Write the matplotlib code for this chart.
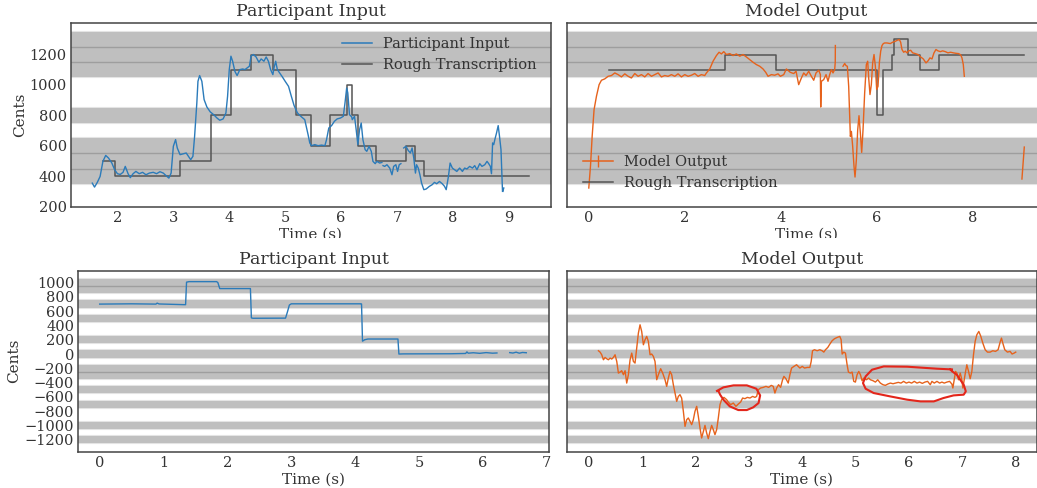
import numpy as np
import matplotlib
matplotlib.use('Agg')
import matplotlib.pyplot as plt
from matplotlib.lines import Line2D
from matplotlib.patches import Rectangle

nan = np.nan

# scale notes (cents) shown as grey bands
top_notes = [400, 500, 600, 800, 1100, 1200, 1300]
bottom_notes = [1000, 900, 700, 500, 200, 0, -200, -300, -500, -700, -1000, -1200]

# --- top left: participant input ---
tl_time = [1.55, 1.59, 1.64, 1.69, 1.74, 1.79, 1.84, 1.90, 1.95, 2.00, 2.05, 2.10, 2.14, 2.19,
           2.23, 2.28, 2.33, 2.39, 2.45, 2.51, 2.57, 2.64, 2.70, 2.76, 2.82, 2.87, 2.92, 2.96,
           2.98, 3.00, 3.04, 3.07, 3.12, 3.18, 3.23, 3.27, 3.31, 3.35, 3.38, 3.42, 3.44, 3.47,
           3.51, 3.55, 3.60, 3.66, 3.72, 3.78, 3.83, 3.89, 3.94, 3.97, 4.00, 4.03, 4.06, 4.10,
           4.14, 4.19, 4.24, 4.28, 4.32, 4.36, 4.39, 4.43, 4.48, 4.53, 4.57, 4.62, 4.66, 4.70,
           4.74, 4.78, 4.80, 4.83, 4.86, 4.91, 4.95, 5.00, 5.06, 5.11, 5.16, 5.22, 5.28, 5.35,
           5.41, 5.44, 5.47, 5.53, 5.59, 5.65, 5.71, 5.74, 5.78, 5.83, 5.88, 5.93, 5.99, 6.04,
           6.07, 6.10, 6.12, 6.15, 6.19, 6.20, 6.24, 6.27, 6.30, 6.33, 6.36, 6.39, 6.43, 6.46,
           6.50, 6.54, 6.57, 6.61, 6.64, 6.69, 6.73, nan, 6.75, 6.78, 6.82, 6.87, 6.91, 6.94,
           6.98, 7.01, 7.04, 7.07, nan, 7.12, 7.16, 7.20, 7.24, 7.27, 7.30, 7.33, 7.35, 7.38,
           7.41, 7.44, 7.48, 7.52, 7.58, 7.63, 7.67, 7.71, 7.76, 7.81, 7.85, 7.88, 7.92, 7.95,
           7.99, 8.03, 8.07, 8.12, 8.17, 8.21, 8.25, 8.30, 8.35, 8.39, 8.43, 8.48, 8.52, 8.57,
           8.61, 8.64, 8.67, 8.69, 8.71, 8.73, 8.75, 8.78, 8.81, 8.83, 8.86, 8.875, 8.887, nan,
           8.893, 8.91]
tl_cents = [355, 329, 360, 399, 498, 537, 520, 487, 443, 417, 412, 426, 465, 417,
            391, 417, 432, 417, 426, 410, 421, 426, 417, 430, 421, 404, 388, 421,
            509, 597, 641, 586, 542, 548, 553, 531, 509, 531, 662, 882, 1024, 1062,
            1024, 904, 855, 823, 805, 783, 768, 777, 816, 926, 1101, 1189, 1156, 1090,
            1062, 1101, 1105, 1101, 1112, 1123, 1189, 1200, 1184, 1149, 1171, 1156, 1184, 1156,
            1101, 1068, 1112, 1156, 1101, 1075, 1053, 1024, 991, 926, 864, 816, 794, 772,
            673, 619, 601, 608, 601, 605, 601, 641, 717, 733, 761, 777, 783, 794,
            882, 980, 948, 805, 790, 772, 794, 706, 608, 706, 750, 641, 575, 564,
            597, 564, 498, 483, 498, 487, 491, nan, 470, 465, 476, 454, 410, 465,
            476, 432, 476, 483, nan, 586, 597, 570, 553, 586, 520, 421, 476, 454,
            410, 355, 312, 316, 334, 345, 360, 351, 366, 351, 334, 312, 399, 487,
            454, 443, 432, 454, 432, 454, 448, 465, 454, 470, 443, 483, 465, 476,
            498, 483, 465, 417, 619, 608, 641, 684, 733, 673, 575, 421, 301, nan,
            301, 323]

tl_onsets = [1.74, 1.96, 3.11, 3.67, 4.03, 4.38, 4.79, 5.20, 5.47, 5.80, 6.11, 6.19,
             6.30, 6.62, 7.16, 7.33, 7.49]
tl_notes = [500, 400, 500, 800, 1100, 1200, 1100, 800, 600, 800, 1000, 800,
            600, 500, 600, 500, 400]
tl_end = 9.36

# --- top right: model output ---
tr_time = [0.0, 0.035, 0.07, 0.11, 0.16, 0.215, 0.264, 0.333, 0.403,
           0.472, 0.542, 0.611, 0.681, 0.75, 0.82, 0.889, 0.958, 1.028, 1.097, 1.167,
           1.236, 1.306, 1.375, 1.445, 1.514, 1.583, 1.653, 1.722, 1.792, 1.861, 1.931,
           2.0, 2.07, 2.139, 2.208, 2.278, 2.347, 2.417,
           2.452, 2.521, 2.59, 2.66, 2.715, 2.764, 2.813, 2.868, 2.938, 3.007, 3.076,
           3.146, 3.215, 3.285, 3.354, 3.424, 3.493, 3.563, 3.632, 3.688, 3.736, 3.806,
           3.875, 3.944, 3.993, 4.063, 4.118, 4.174, 4.20, 4.271, 4.32, 4.375, 4.431,
           4.48, 4.528, 4.584, 4.639, 4.688, 4.736, 4.792, 4.827, 4.834, 4.848, 4.896,
           4.945, 4.986, 5.021, 5.056, 5.09, 5.125, 5.137, 5.139, nan,
           5.299, 5.334, 5.361, 5.389, 5.417, 5.438, 5.452, 5.473, 5.50, 5.528, 5.549,
           5.577, 5.605, 5.632, 5.66, 5.688, 5.716, 5.75, 5.785, 5.813, 5.834, 5.861,
           5.889, 5.917, 5.945, 5.973, 6.0, 6.028, 6.056, 6.084, 6.111, 6.139, 6.167,
           6.215, 6.285, 6.334, 6.389, 6.431, 6.473, 6.50, 6.528, 6.563, 6.597, 6.632,
           6.667, 6.709, 6.75, 6.806, 6.861, 6.917, 6.972, 7.028, 7.07, 7.111, 7.153,
           7.195, 7.236, 7.278, 7.327, 7.375, 7.431, 7.486, 7.542, 7.598, 7.653, 7.709,
           7.75, 7.778, 7.806, 7.827, nan, 9.028, 9.077]
tr_cents = [323, 465, 662, 838, 926, 1002, 1031, 1040, 1057,
            1062, 1079, 1068, 1053, 1073, 1057, 1046, 1075, 1057, 1068, 1053,
            1075, 1057, 1068, 1079, 1053, 1062, 1057, 1068, 1057, 1073, 1053,
            1068, 1057, 1064, 1075, 1057, 1068, 1062,
            1079, 1105, 1156, 1193, 1215, 1204, 1219, 1200, 1206, 1193, 1204,
            1189, 1200, 1184, 1167, 1149, 1134, 1123, 1105, 1083, 1057, 1068,
            1064, 1073, 1057, 1068, 1105, 1090, 1083, 1075, 1090, 1002, 1046,
            1079, 1062, 1090, 1057, 1031, 1079, 1097, 1068, 855, 1024, 1035,
            1068, 1024, 1068, 1101, 1079, 1101, 1150, 1259, nan,
            1123, 1141, 1127, 1123, 991, 794, 662, 695, 597, 465, 395,
            509, 706, 798, 684, 557, 706, 948, 1134, 1156, 1046, 937,
            1002, 1145, 1200, 1123, 970, 991, 1145, 1222, 1259, 1272, 1276,
            1276, 1272, 1281, 1287, 1294, 1298, 1281, 1233, 1215, 1222, 1211,
            1224, 1228, 1211, 1206, 1200, 1184, 1171, 1145, 1158, 1178, 1171,
            1211, 1233, 1224, 1219, 1224, 1219, 1211, 1215, 1211, 1208, 1206,
            1198, 1178, 1134, 1057, nan, 382, 592]

tr_onsets = [0.42, 2.83, 3.91, 6.00, 6.14, 6.32, 6.36, 6.65, 6.91, 7.29]
tr_notes = [1100, 1200, 1100, 800, 1100, 1200, 1300, 1200, 1100, 1200]
tr_end = 9.08

# --- bottom left: participant input ---
bl_time = [0.0, 0.5, 0.88, 0.90, 0.93, 1.33, 1.345, 1.36, 1.40, 1.83, 1.85, 1.88,
           2.36, 2.375, 2.40, 2.91, 2.94, 2.97, 3.00, 4.09, 4.10, 4.115, 4.15, 4.20,
           4.67, 4.685, 4.75, 5.50, 5.73, 5.75, 5.77, 5.85, 5.95, 6.05, 6.15, 6.22,
           nan, 6.42, 6.47, 6.52, 6.57, 6.62, 6.68]
bl_cents = [698, 702, 698, 712, 700, 690, 690, 1005, 1012, 1012, 1000, 915,
            915, 505, 500, 502, 590, 685, 702, 702, 700, 180, 200, 210,
            210, 0, 2, 4, 8, 30, 12, 18, 10, 20, 12, 15,
            nan, 20, 14, 26, 12, 22, 18]

# --- bottom right: model output ---
br_time = [0.175, 0.206, 0.237, 0.269, 0.30, 0.331, 0.362, 0.394, 0.425, 0.456, 0.487,
           0.519, 0.55, 0.581, 0.612, 0.644, 0.675, 0.706, 0.737, 0.769, 0.80, 0.831,
           0.862, 0.894, 0.925, 0.956, 0.987, 1.019, 1.05, 1.081, 1.112, 1.144, 1.175,
           1.206, 1.237, 1.269, 1.30, 1.343, 1.381, 1.425, 1.456, 1.487, 1.519, 1.55,
           1.581, 1.612, 1.644, 1.675, 1.706, 1.737, 1.769, 1.80, 1.831, 1.862, 1.894,
           1.925, 1.956, 1.987, 2.019, 2.05, 2.081, 2.112, 2.144, 2.175, 2.206, 2.237,
           2.269, 2.30, 2.331, 2.362, 2.394, 2.425, 2.456, 2.487, 2.531, 2.581, 2.612,
           2.656, 2.706, 2.756, 2.80, 2.844, 2.881, 2.925, 2.969, 3.019, 3.069, 3.112,
           3.144, 3.175, 3.219, 3.269, 3.319, 3.369, 3.419, 3.456, 3.487, 3.519, 3.556,
           3.594, 3.631, 3.656, 3.694, 3.737, 3.769, 3.80, 3.844, 3.894, 3.956, 4.0,
           4.043, 4.093, 4.143, 4.168, 4.193, 4.23, 4.28, 4.33, 4.374, 4.405, 4.436,
           4.48, 4.518, 4.561, 4.605, 4.655, 4.705, 4.73, 4.749, 4.78, 4.811, 4.842,
           4.867, 4.905, 4.936, 4.967, 4.998, 5.029, 5.061, 5.092, 5.123, 5.154, 5.204,
           5.248, 5.279, 5.329, 5.373, 5.417, 5.466, 5.516, 5.56, 5.604, 5.654, 5.704,
           5.753, 5.803, 5.853, 5.903, 5.953, 6.003, 6.053, 6.103, 6.153, 6.203, 6.253,
           6.303, 6.353, 6.403, 6.434, 6.478, 6.528, 6.578, 6.621, 6.665, 6.715, 6.765,
           6.809, 6.827, 6.852, 6.877, 6.902, 6.933, 6.965, 6.996, 7.014, 7.039, 7.064,
           7.089, 7.121, 7.152, 7.183, 7.214, 7.245, 7.277, 7.314, 7.352, 7.389, 7.433,
           7.476, 7.526, 7.576, 7.626, 7.676, 7.714, 7.739, 7.764, 7.801, 7.851, 7.901,
           7.938, 7.976, 8.007]
br_cents = [46, 27, -10, -80, -47, -66, -80, -56, -70, -47, -10,
            -103, -266, -252, -233, -289, -233, -406, -289, -80, 13, -103,
            -126, 83, 293, 409, 316, 130, 200, 246, 176, -10, 0,
            -33, -103, -359, -289, -205, -266, -359, -452, -336, -243, -289,
            -429, -545, -662, -592, -568, -615, -801, -1011, -918, -894, -941,
            -987, -918, -801, -731, -871, -1034, -1174, -1081, -997, -1104, -1183,
            -1081, -997, -1057, -1127, -1057, -894, -708, -638, -606, -638, -671,
            -708, -685, -731, -699, -671, -615, -624, -606, -615, -592, -606,
            -592, -499, -475, -466, -452, -466, -438, -452, -545, -475, -429,
            -466, -359, -312, -345, -406, -289, -196, -173, -150, -196, -173,
            -196, -187, -187, -103, 46, 60, 46, 60, 46, 27, 60,
            93, 139, 186, 214, 232, 246, 200, 0, 27, 13, -150,
            -252, -266, -252, -382, -392, -289, -243, -289, -373, -336, -359,
            -336, -359, -373, -392, -359, -406, -429, -438, -420, -406, -415,
            -406, -396, -406, -382, -406, -392, -406, -382, -406, -392, -410,
            -392, -382, -429, -382, -406, -382, -406, -392, -406, -392, -382,
            -420, -475, -359, -243, -266, -359, -266, -359, -475, -359, -252,
            -150, -243, -345, -243, -10, 176, 270, 316, 246, 153, 60,
            27, 27, 46, 37, 60, 167, 223, 153, 60, 27, 37,
            0, 13, 27]

# hand-drawn red loops on the bottom right panel
loop1_time = [2.40, 2.52, 2.71, 2.96, 3.14, 3.21, 3.18, 3.08, 2.96, 2.80, 2.64, 2.52, 2.46, 2.43]
loop1_cents = [-515, -466, -438, -438, -485, -578, -685, -745, -783, -783, -731, -638, -569, -522]
loop2_time = [6.78, 6.81, 6.90, 7.03, 7.07, 7.03, 6.84, 6.65, 6.47, 6.22, 5.97, 5.65,
              5.34, 5.19, 5.14, 5.19, 5.31, 5.53, 5.97, 6.53, 6.81]
loop2_cents = [-215, -240, -289, -429, -522, -568, -578, -615, -662, -662, -638, -592,
               -545, -485, -406, -312, -219, -173, -177, -205, -215]

BAND = '#bfbfbf'
BLUE = '#2b7bba'
ORANGE = '#e6621c'
GREY = '#555555'
TXT = '#333333'

plt.rcParams['font.family'] = 'DejaVu Serif'
plt.rcParams['text.color'] = TXT
plt.rcParams['axes.labelcolor'] = TXT
plt.rcParams['xtick.color'] = TXT
plt.rcParams['ytick.color'] = TXT
plt.rcParams['xtick.labelsize'] = 10.5
plt.rcParams['ytick.labelsize'] = 10.5
plt.rcParams['axes.edgecolor'] = '#444444'


def draw_bands(ax, notes):
    ns = sorted(notes)
    for n in ns:
        # faint light rim just outside each band
        ax.axhline(n - 50, color='#e4e4e4', lw=1.5, zorder=0)
        ax.axhline(n + 50, color='#e4e4e4', lw=1.5, zorder=0)
    for n in ns:
        ax.axhspan(n - 50, n + 50, facecolor=BAND, lw=0, zorder=0.2)
    for a, b in zip(ns[:-1], ns[1:]):
        if b - a == 100:
            ax.axhline((a + b) / 2, color='#9e9e9e', lw=1.0, zorder=0.5)


def style(ax):
    ax.tick_params(length=0, pad=3)
    for s in ax.spines.values():
        s.set_linewidth(1.1)


def steps(ax, onsets, notes, end):
    x = list(onsets) + [end]
    y = list(notes) + [notes[-1]]
    ax.step(x, y, where='post', color=GREY, lw=1.1, zorder=2)


fig = plt.figure(figsize=(10.37, 4.88), dpi=100)
ax1 = fig.add_axes([0.0685, 0.5764, 0.4626, 0.3758])
ax2 = fig.add_axes([0.5465, 0.5764, 0.4622, 0.3758])
ax3 = fig.add_axes([0.0755, 0.0744, 0.4539, 0.3709])
ax4 = fig.add_axes([0.5465, 0.0744, 0.4532, 0.3709])

# top left
draw_bands(ax1, top_notes)
ax1.plot(tl_time, tl_cents, color=BLUE, lw=1.0, zorder=3)
steps(ax1, tl_onsets, tl_notes, tl_end)
ax1.set_xlim(1.17, 9.75)
ax1.set_ylim(200, 1405)
ax1.set_yticks([200, 400, 600, 800, 1000, 1200])
ax1.set_xticks(range(2, 10))
ax1.set_title('Participant Input', fontsize=12.5, pad=5)
ax1.set_ylabel('Cents', fontsize=11, labelpad=1.5)
ax1.set_xlabel('Time (s)', fontsize=11, labelpad=2)
ax1.legend(handles=[Line2D([], [], color=BLUE, lw=1.1), Line2D([], [], color=GREY, lw=1.1)],
           labels=['Participant Input', 'Rough Transcription'], loc='upper right',
           frameon=False, fontsize=10.5, borderaxespad=0.55)
style(ax1)

# top right
draw_bands(ax2, top_notes)
ax2.plot(tr_time, tr_cents, color=ORANGE, lw=1.0, zorder=3)
steps(ax2, tr_onsets, tr_notes, tr_end)
ax2.set_xlim(-0.46, 9.53)
ax2.set_ylim(200, 1405)
ax2.set_yticks([200, 400, 600, 800, 1000, 1200])
ax2.set_yticklabels([])
ax2.set_xticks([0, 2, 4, 6, 8])
ax2.set_title('Model Output', fontsize=12.5, pad=5)
ax2.set_xlabel('Time (s)', fontsize=11, labelpad=2)
ax2.legend(handles=[Line2D([], [], color=ORANGE, lw=1.1, marker='|', markersize=9),
                    Line2D([], [], color=GREY, lw=1.1)],
           labels=['Model Output', 'Rough Transcription'], loc='lower left',
           frameon=False, fontsize=10.5, borderaxespad=0.75)
style(ax2)

# bottom left
draw_bands(ax3, bottom_notes)
ax3.plot(bl_time, bl_cents, color=BLUE, lw=1.0, zorder=3)
ax3.set_xlim(-0.335, 7.035)
ax3.set_ylim(-1365, 1165)
ax3.set_yticks(range(-1200, 1001, 200))
ax3.set_xticks(range(0, 8))
ax3.set_title('Participant Input', fontsize=12.5, pad=5)
ax3.set_ylabel('Cents', fontsize=11, labelpad=2.5)
ax3.set_xlabel('Time (s)', fontsize=11, labelpad=2)
style(ax3)

# bottom right
draw_bands(ax4, bottom_notes)
ax4.plot(br_time, br_cents, color=ORANGE, lw=1.0, zorder=3)
ax4.plot(loop1_time, loop1_cents, color='#e3261b', lw=1.5, zorder=4)
ax4.plot(loop2_time, loop2_cents, color='#e3261b', lw=1.5, zorder=4)
ax4.set_xlim(-0.42, 8.4)
ax4.set_ylim(-1365, 1165)
ax4.set_yticks(range(-1200, 1001, 200))
ax4.set_yticklabels([])
ax4.set_xticks(range(0, 9))
ax4.set_title('Model Output', fontsize=12.5, pad=5)
ax4.set_xlabel('Time (s)', fontsize=11, labelpad=2)
style(ax4)

# the top row was cut just under its axis labels
fig.patches.append(Rectangle((0, 1 - 248 / 488), 1, 10.5 / 488, transform=fig.transFigure,
                             facecolor='white', edgecolor='none', zorder=10))

fig.savefig('out.png', dpi=100)
